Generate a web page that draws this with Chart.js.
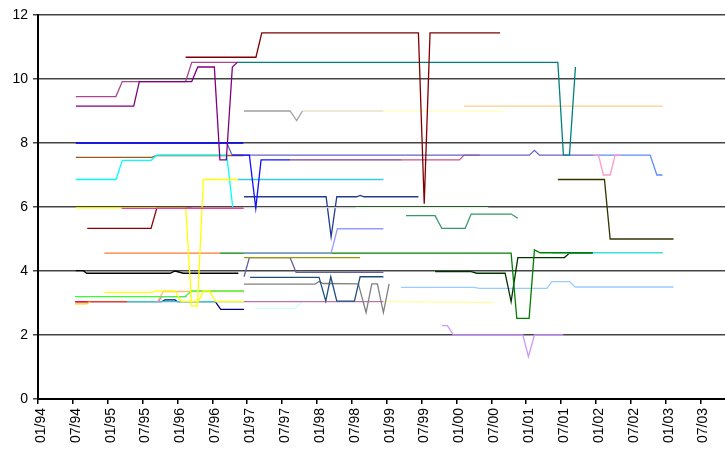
<!DOCTYPE html>
<html>
<head>
<meta charset="utf-8">
<script src="https://cdn.jsdelivr.net/npm/chart.js@4/dist/chart.umd.min.js"></script>
<style>
html,body{margin:0;padding:0;background:#fff;overflow:hidden;}
#wrap{width:725px;height:451px;position:relative;}
</style>
</head>
<body>
<div id="wrap"><canvas id="c"></canvas></div>
<script>
// x values are months since 01/94; y values
const xTickLabels = ['01/94','07/94','01/95','07/95','01/96','07/96','01/97','07/97','01/98','07/98','01/99','07/99','01/00','07/00','01/01','07/01','01/02','07/02','01/03','07/03'];
const xTickMonths = [0,6,12,18,24,30,36,42,48,54,60,66,72,78,84,90,96,102,108,114];
const yTicks = [0,2,4,6,8,10,12];

const maroonTop   = [[25.4,10.68],[37.5,10.68],[38.5,11.44],[65.45,11.44],[66.45,6.1],[67.45,11.44],[79.5,11.44]];
const violetTop   = [[6.5,9.45],[13.4,9.45],[14.5,9.92],[25.4,9.92],[26.45,10.52],[34.4,10.52]];
const purpleTop   = [[6.5,9.15],[16.47,9.15],[17.43,9.92],[26.45,9.92],[27.49,10.375],[30.34,10.375],[31.3,7.47],[32.4,7.47],[33.44,10.375],[34.3,10.52]];
const tealTop     = [[34.3,10.52],[89.44,10.52],[90.4,7.62],[91.44,7.62],[92.47,10.375]];
const grayNine    = [[35.45,9.0],[43.37,9.0],[44.5,8.7],[45.5,9.0]];
const beigeNine   = [[45.5,9.0],[59.43,9.0]];
const paleNine    = [[59.43,9.0],[80.4,9.0]];
const apricotNine = [[73.3,9.15],[107.5,9.15]];
const blueEight   = [[6.5,8.0],[35.33,8.0]];
const slateEight  = [[6.5,8.0],[32.48,8.0],[33.4,7.62],[84.55,7.62],[85.41,7.77],[86.27,7.62],[95.57,7.62]];
const skyEnd      = [[95.57,7.62],[105.33,7.62],[106.48,7.0],[107.44,7.0]];
const pinkDip     = [[95.57,7.62],[96.43,7.62],[97.29,7.0],[98.44,7.0],[99.3,7.62],[100.3,7.62]];
const blueDrop    = [[33.4,7.62],[36.37,7.62],[37.47,5.96],[38.38,7.47],[43.37,7.47]];
const purpleMid   = [[43.37,7.47],[62.59,7.47]];
const roseMid     = [[62.59,7.47],[72.51,7.47],[73.3,7.62],[76,7.62]];
const brownLine   = [[6.5,7.55],[19.57,7.55],[20.43,7.61],[35.33,7.61]];
const cyanLine    = [[6.5,6.86],[13.42,6.86],[14.51,7.46],[19.45,7.46],[20.43,7.62],[32.48,7.62],[33.51,5.98]];
const cyanLow     = [[34.37,6.86],[59.43,6.86]];
const yellowDrop  = [[6.5,5.97],[25.42,5.97],[26.45,2.9],[27.42,2.9],[28.45,6.86],[34.37,6.86]];
const pinkSix     = [[14.4,5.96],[35.33,5.96]];
const redFive     = [[8.48,5.33],[19.45,5.33],[20.43,5.96],[35.33,5.96]];
const graySix     = [[26.5,5.98],[54.56,5.98]];
const mintSix     = [[54.56,5.98],[77.45,5.98]];
const orangeFour  = [[11.41,4.56],[31.32,4.56]];
const greenFour   = [[31.32,4.56],[81.4,4.56],[82.38,2.52],[84.5,2.52],[85.41,4.66],[86.39,4.57],[95.46,4.57]];
const turqFour    = [[88.4,4.57],[107.5,4.57]];
const periwinkle  = [[35.33,4.56],[50.43,4.56],[51.51,5.32],[59.43,5.32]];
const blackFour   = [[6.5,4.01],[7.8,4.01],[8.38,3.93],[22.72,3.93],[23.58,4.0],[25.01,3.93],[34.47,3.93]];
const limeThree   = [[6.37,3.2],[25.3,3.2],[26.45,3.38],[35.45,3.38]];
const tanThree    = [[20.53,3.04],[21.56,3.36],[35.45,3.36]];
const yellowThree = [[11.41,3.33],[19.57,3.33],[20.53,3.38],[23.58,3.38],[24.61,3.04],[27.59,3.04],[28.45,3.38],[29.48,3.38],[30.58,3.04],[35.45,3.04]];
const yellowStart = [[6.37,2.97],[8.38,2.97],[8.95,3.04]];
const magentaBit  = [[20.7,3.04],[21.29,3.2],[25.59,3.2]];
const navyThree   = [[6.5,3.04],[21.29,3.04],[21.86,3.1],[23.58,3.1],[23.97,3.04],[30.5,3.04],[31.44,2.8],[35.45,2.8]];
const redThree    = [[6.37,3.04],[15.27,3.04]];
const crimsonBit  = [[6.37,3.04],[8.6,3.04]];
const tealThree   = [[15.27,3.04],[35.45,3.04]];
const navySix     = [[35.45,6.32],[49.57,6.32],[50.43,5.07],[51.41,6.32],[54.85,6.32],[55.42,6.36],[56.1,6.32],[65.45,6.32]];
const oliveFour   = [[35.45,4.42],[55.42,4.42]];
const slateFour   = [[35.45,3.82],[36.37,4.42],[43.37,4.42],[44.4,3.96],[59.43,3.96]];
const steelThree  = [[36.49,3.8],[48.36,3.8],[49.51,3.06],[50.37,3.82],[51.41,3.06],[54.44,3.06],[55.42,3.82],[59.43,3.82]];
const grayThree   = [[35.45,3.59],[47.67,3.59],[48.36,3.67],[49.1,3.61],[55.12,3.6],[56.45,2.7],[57.43,3.6],[58.39,3.6],[59.43,2.7],[60.41,3.6]];
const orchidThree = [[35.33,3.04],[59.43,3.04]];
const paleYellow  = [[59.43,3.04],[78.48,3.02]];
const paleCyan    = [[37.35,2.83],[44.23,2.83],[45.38,3.04]];
const lightBlue   = [[62.47,3.49],[75,3.49],[76,3.46],[87.55,3.46],[88.41,3.67],[91.44,3.67],[92.42,3.5],[109.34,3.5]];
const seaGreen    = [[63.33,5.73],[68.32,5.73],[69.48,5.33],[73.49,5.33],[74.52,5.78],[81.4,5.78],[82.56,5.65]];
const darkGreen   = [[68.32,3.98],[74.52,3.98],[75.5,3.93],[80.37,3.93],[81.4,3.04],[82.56,4.42],[90.58,4.42],[91.44,4.56],[95.46,4.56]];
const lavenderTwo = [[69.48,2.29],[70.44,2.29],[71.47,2.0],[83.42,2.0],[84.38,1.32],[85.41,2.0],[90.4,2.0]];
const darkOlive   = [[89.44,6.86],[97.46,6.86],[98.44,5.0],[109.34,5.0]];

// first entry is drawn on top
const seriesList = [
  [maroonTop,'#800000'],[purpleTop,'#800080'],[violetTop,'#a8478f'],[tealTop,'#008080'],
  [blueDrop,'#1010ff'],[pinkSix,'#e8409a'],[redFive,'#8b0000'],[yellowDrop,'#ffff00'],
  [cyanLine,'#00ffff'],[brownLine,'#9c5a1a'],[blueEight,'#0000ee'],[slateEight,'#6464c8'],
  [pinkDip,'#ff99cc'],[skyEnd,'#5b8cff'],[purpleMid,'#7a3a9a'],[roseMid,'#cc4f90'],
  [grayNine,'#a0a0a0'],[beigeNine,'#e6e2c8'],[paleNine,'#ffffc8'],[apricotNine,'#ffcc88'],
  [cyanLow,'#33ccee'],[graySix,'#d0d0d0'],[mintSix,'#ccffcc'],
  [navySix,'#203c90'],[periwinkle,'#9999ff'],[orangeFour,'#ff7733'],[greenFour,'#008000'],
  [turqFour,'#40dcdc'],[darkGreen,'#003300'],[seaGreen,'#339966'],[darkOlive,'#333300'],
  [blackFour,'#000000'],[oliveFour,'#999900'],[slateFour,'#6060a0'],[steelThree,'#1f4e79'],
  [grayThree,'#808080'],[lightBlue,'#99ccff'],[lavenderTwo,'#cc99ff'],
  [yellowThree,'#ffff00'],[yellowStart,'#ffcc00'],[limeThree,'#33ff33'],[tanThree,'#ffbb77'],
  [magentaBit,'#ff55ff'],[orchidThree,'#c070b0'],[paleYellow,'#ffff99'],[paleCyan,'#ccffff'],
  [crimsonBit,'#e0105a'],[redThree,'#ff3a1a'],[tealThree,'#33cccc'],[navyThree,'#000080']
];

const datasets = seriesList.map(([pts,col]) => ({
  data: pts.map(p => ({x:p[0], y:p[1]})),
  borderColor: col,
  backgroundColor: col,
  borderWidth: 1.3,
  pointRadius: 0,
  tension: 0,
  fill: false
}));

new Chart(document.getElementById('c'), {
  type: 'line',
  data: { datasets },
  options: {
    responsive: true,
    maintainAspectRatio: false,
    animation: false,
    events: [],
    layout: { padding: { top: 15, right: 0, left: 0, bottom: 0 } },
    plugins: { legend: { display: false }, tooltip: { enabled: false } },
    scales: {
      x: {
        type: 'linear',
        min: 0,
        max: 118.2,
        afterBuildTicks: s => { s.ticks = xTickMonths.map(v => ({value: v})); },
        afterFit: s => { s.height = 52; },
        ticks: {
          autoSkip: false,
          minRotation: 90,
          maxRotation: 90,
          padding: 4,
          labelOffset: 3,
          color: '#000',
          font: { family: 'Liberation Sans, Arial, sans-serif', size: 14 },
          callback: v => xTickLabels[xTickMonths.indexOf(v)]
        },
        grid: { drawOnChartArea: false, drawTicks: true, tickLength: 5, color: '#000', lineWidth: 1.5 },
        border: { display: true, color: '#000', width: 2 }
      },
      y: {
        min: 0,
        max: 12,
        afterBuildTicks: s => { s.ticks = yTicks.map(v => ({value: v})); },
        afterFit: s => { s.width = 38; },
        ticks: {
          padding: 5,
          color: '#000',
          font: { family: 'Liberation Sans, Arial, sans-serif', size: 14 }
        },
        grid: { color: '#444', lineWidth: 1.5, tickLength: 5, drawTicks: true },
        border: { display: true, color: '#000', width: 2 }
      }
    }
  }
});
</script>
</body>
</html>
